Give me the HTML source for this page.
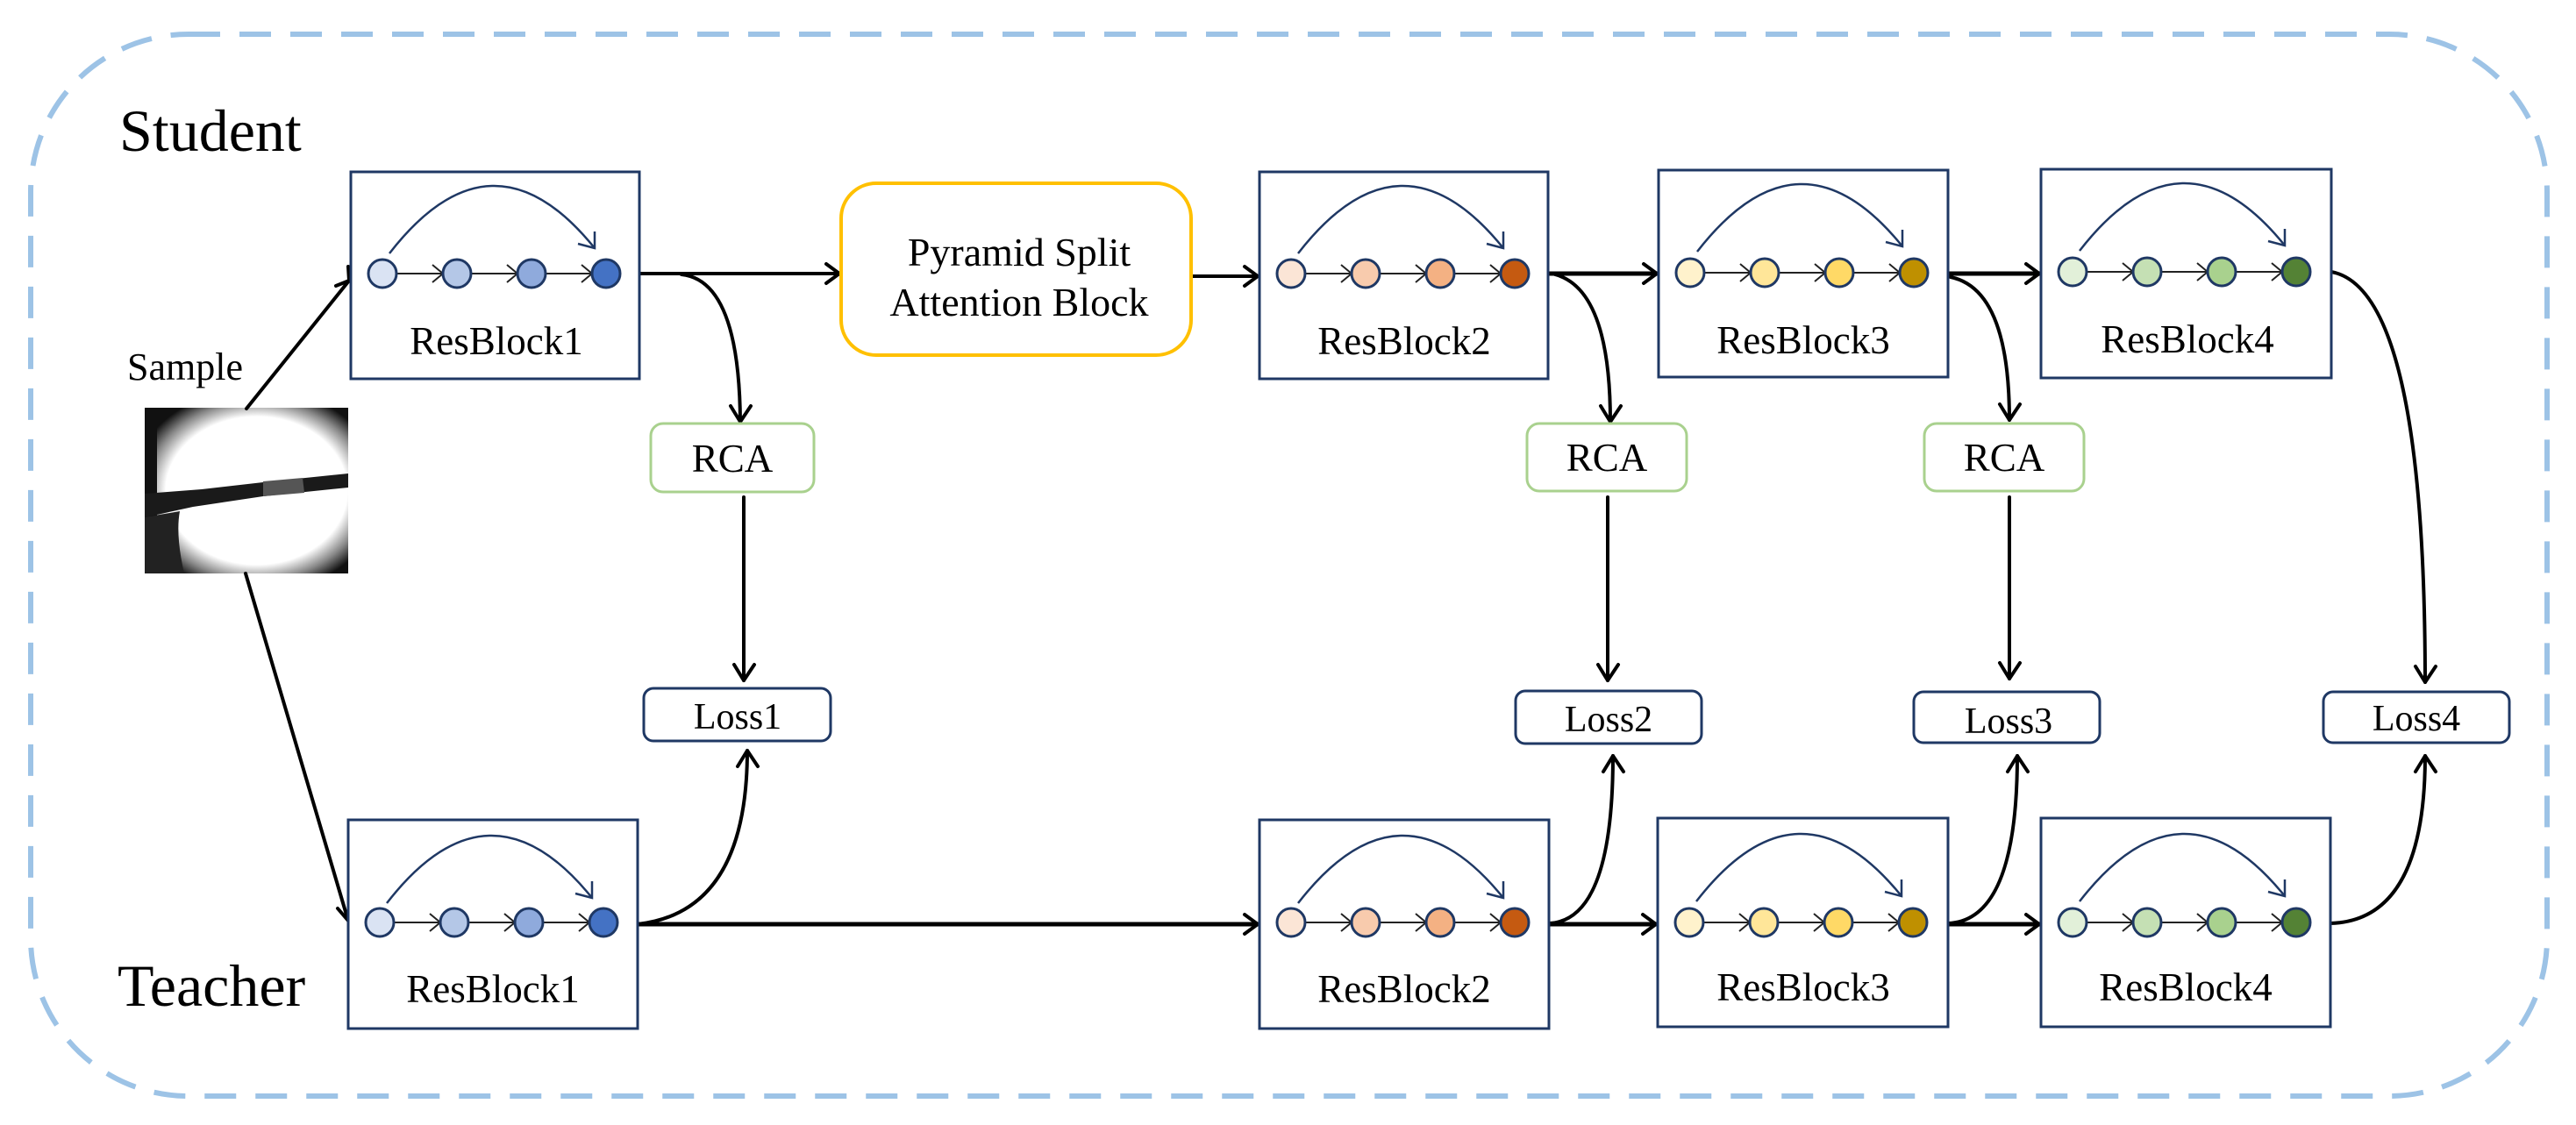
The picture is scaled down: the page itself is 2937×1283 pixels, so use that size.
<!DOCTYPE html>
<html><head><meta charset="utf-8"><style>
html,body{margin:0;padding:0;background:#fff;}
svg{display:block;}
</style></head><body>
<svg width="2937" height="1283" viewBox="0 0 2937 1283" xmlns="http://www.w3.org/2000/svg" font-family="'Liberation Serif','Times New Roman','DejaVu Serif',serif">
<defs>
<radialGradient id="rg" cx="0.55" cy="0.5" r="0.62">
<stop offset="0" stop-color="#fff"/><stop offset="0.72" stop-color="#fff"/><stop offset="0.87" stop-color="#888"/><stop offset="1" stop-color="#111"/>
</radialGradient>
</defs>
<rect x="35" y="39" width="2869" height="1211" rx="180" ry="180" fill="none" stroke="#9dc3e6" stroke-width="6" stroke-dasharray="36 22"/>

<g font-family="'Liberation Serif','Times New Roman',serif">
<text x="136" y="172" font-size="68">Student</text>
<text x="134" y="1147" font-size="68">Teacher</text>
<text x="145" y="433" font-size="44">Sample</text>
</g>

<g>
<rect x="165" y="465" width="232" height="189" fill="url(#rg)"/>
<rect x="165" y="465" width="14" height="189" fill="#111"/>
<path d="M165 563 L230 558 L300 550 L397 540 L397 556 L300 566 L220 578 L165 590 Z" fill="#1a1a1a"/>
<path d="M300 549 L345 545 L347 562 L300 566 Z" fill="#555"/>
<path d="M165 590 L205 583 Q200 610 210 654 L165 654 Z" fill="#222"/>
</g>

<g fill="none" stroke="#000" stroke-width="4" stroke-linecap="round" stroke-linejoin="round">
<path d="M281 466 L398 320"/><path d="M383 326 L398 320 L397 304"/>
<path d="M280 654 L397 1050"/><path d="M385 1036 L397 1050 L404 1033"/>
<path d="M729 312 L957 312"/><path d="M942 301 L957 312 L942 323"/>
<path d="M1358 315 L1434 315"/><path d="M1419 304 L1434 315 L1419 326"/>
<path d="M1765 312 L1889 312" stroke-width="5"/><path d="M1874 301 L1889 312 L1874 323"/>
<path d="M2221 312 L2325 312" stroke-width="5"/><path d="M2310 301 L2325 312 L2310 323"/>
<path d="M777 313 Q843 320 844 481"/><path d="M833 463 L844 481 L856 463"/>
<path d="M1773 313 Q1836 330 1836 481"/><path d="M1825 463 L1836 481 L1848 463"/>
<path d="M2224 316 Q2291 330 2291 479"/><path d="M2280 461 L2291 479 L2303 461"/>
<path d="M2658 310 Q2765 330 2765 778"/><path d="M2754 760 L2765 778 L2777 760"/>
<path d="M848 567 L848 776"/><path d="M837 758 L848 776 L860 758"/>
<path d="M1833 567 L1833 776"/><path d="M1822 758 L1833 776 L1845 758"/>
<path d="M2291 567 L2291 774"/><path d="M2280 756 L2291 774 L2303 756"/>
<path d="M727 1054 L1434 1054" stroke-width="5"/><path d="M1419 1043 L1434 1054 L1419 1065"/>
<path d="M1766 1054 L1888 1054" stroke-width="5"/><path d="M1873 1043 L1888 1054 L1873 1065"/>
<path d="M2221 1054 L2325 1054" stroke-width="5"/><path d="M2310 1043 L2325 1054 L2310 1065"/>
<path d="M727 1054 Q852 1040 852 856"/><path d="M841 874 L852 856 L864 874"/>
<path d="M1766 1053 Q1839 1050 1839 862"/><path d="M1828 880 L1839 862 L1851 880"/>
<path d="M2221 1053 Q2300 1050 2300 862"/><path d="M2289 880 L2300 862 L2312 880"/>
<path d="M2657 1053 Q2765 1050 2765 862"/><path d="M2754 880 L2765 862 L2777 880"/>
</g>

<rect x="959" y="209" width="399" height="196" rx="40" fill="#fff" stroke="#ffc000" stroke-width="4"/>
<g font-family="'Liberation Serif','Times New Roman',serif" text-anchor="middle">
<text x="1162" y="303" font-size="46">Pyramid Split</text>
<text x="1162" y="360" font-size="46">Attention Block</text>
</g>

<g fill="#fff" stroke="#a9d18e" stroke-width="3">
<rect x="742" y="483" width="186" height="78" rx="14"/>
<rect x="1741" y="483" width="182" height="77" rx="14"/>
<rect x="2194" y="483" width="182" height="77" rx="14"/>
</g>
<g font-size="45" text-anchor="middle" font-family="'Liberation Serif','Times New Roman',serif">
<text x="835" y="538">RCA</text><text x="1832" y="537">RCA</text><text x="2285" y="537">RCA</text>
</g>
<g fill="#fff" stroke="#1f3864" stroke-width="3">
<rect x="734" y="785" width="213" height="60" rx="11"/>
<rect x="1728" y="788" width="212" height="60" rx="11"/>
<rect x="2182" y="789" width="212" height="58" rx="11"/>
<rect x="2649" y="789" width="212" height="58" rx="11"/>
</g>
<g font-size="42" text-anchor="middle" font-family="'Liberation Serif','Times New Roman',serif">
<text x="841" y="831">Loss1</text><text x="1834" y="834">Loss2</text><text x="2290" y="836">Loss3</text><text x="2755" y="833">Loss4</text>
</g>

<g stroke="#1f3864" stroke-width="3" fill="#fff">
<rect x="400" y="196" width="329" height="236"/>
<rect x="1436" y="196" width="329" height="236"/>
<rect x="1891" y="194" width="330" height="236"/>
<rect x="2327" y="193" width="331" height="238"/>
<rect x="397" y="935" width="330" height="238"/>
<rect x="1436" y="935" width="330" height="238"/>
<rect x="1890" y="933" width="331" height="238"/>
<rect x="2327" y="933" width="330" height="238"/>
</g>
<g font-size="45" text-anchor="middle" font-family="'Liberation Serif','Times New Roman',serif">
<text x="566" y="404">ResBlock1</text>
<text x="1601" y="404">ResBlock2</text>
<text x="2056" y="403">ResBlock3</text>
<text x="2494" y="402">ResBlock4</text>
<text x="562" y="1143">ResBlock1</text>
<text x="1601" y="1143">ResBlock2</text>
<text x="2056" y="1141">ResBlock3</text>
<text x="2492" y="1141">ResBlock4</text>
</g>

<g stroke="#1f3864" stroke-width="2.5" fill="none">
<path d="M444 289 Q561 138 678 283"/>
<path d="M1480 289 Q1597 138 1714 283"/>
<path d="M1935 287 Q2052 136 2169 281"/>
<path d="M2371 286 Q2488 135 2605 280"/>
<path d="M441 1030 Q558 879 675 1024"/>
<path d="M1480 1030 Q1597 879 1714 1024"/>
<path d="M1934 1028 Q2051 877 2168 1022"/>
<path d="M2371 1028 Q2488 877 2605 1022"/>
<path d="M659 278 L678 283 L678 264"/><path d="M1695 278 L1714 283 L1714 264"/>
<path d="M2150 276 L2169 281 L2169 262"/><path d="M2586 275 L2605 280 L2605 261"/>
<path d="M656 1019 L675 1024 L675 1005"/><path d="M1695 1019 L1714 1024 L1714 1005"/>
<path d="M2149 1017 L2168 1022 L2168 1003"/><path d="M2586 1017 L2605 1022 L2605 1003"/>
</g>

<g stroke="#222" stroke-width="2" fill="none">
<path d="M452 312 L675 312 M493 302 L505 312 L493 322 M578 302 L590 312 L578 322 M663 302 L675 312 L663 322"/>
<path d="M1488 312 L1711 312 M1529 302 L1541 312 L1529 322 M1614 302 L1626 312 L1614 322 M1699 302 L1711 312 L1699 322"/>
<path d="M1943 311 L2166 311 M1984 301 L1996 311 L1984 321 M2069 301 L2081 311 L2069 321 M2154 301 L2166 311 L2154 321"/>
<path d="M2379 310 L2602 310 M2420 300 L2432 310 L2420 320 M2505 300 L2517 310 L2505 320 M2590 300 L2602 310 L2590 320"/>
<path d="M449 1052 L672 1052 M490 1042 L502 1052 L490 1062 M575 1042 L587 1052 L575 1062 M660 1042 L672 1052 L660 1062"/>
<path d="M1488 1052 L1711 1052 M1529 1042 L1541 1052 L1529 1062 M1614 1042 L1626 1052 L1614 1062 M1699 1042 L1711 1052 L1699 1062"/>
<path d="M1942 1052 L2165 1052 M1983 1042 L1995 1052 L1983 1062 M2068 1042 L2080 1052 L2068 1062 M2153 1042 L2165 1052 L2153 1062"/>
<path d="M2379 1052 L2602 1052 M2420 1042 L2432 1052 L2420 1062 M2505 1042 L2517 1052 L2505 1062 M2590 1042 L2602 1052 L2590 1062"/>
</g>
<g stroke="#1f3864" stroke-width="3">
<circle cx="436" cy="312" r="16" fill="#dae3f3"/><circle cx="521" cy="312" r="16" fill="#b4c7e7"/><circle cx="606" cy="312" r="16" fill="#8faadc"/><circle cx="691" cy="312" r="16" fill="#4472c4"/>
<circle cx="1472" cy="312" r="16" fill="#fbe5d6"/><circle cx="1557" cy="312" r="16" fill="#f8cbad"/><circle cx="1642" cy="312" r="16" fill="#f4b183"/><circle cx="1727" cy="312" r="16" fill="#c55a11"/>
<circle cx="1927" cy="311" r="16" fill="#fff2cc"/><circle cx="2012" cy="311" r="16" fill="#ffe699"/><circle cx="2097" cy="311" r="16" fill="#ffd966"/><circle cx="2182" cy="311" r="16" fill="#bf9000"/>
<circle cx="2363" cy="310" r="16" fill="#e2f0d9"/><circle cx="2448" cy="310" r="16" fill="#c5e0b4"/><circle cx="2533" cy="310" r="16" fill="#a9d18e"/><circle cx="2618" cy="310" r="16" fill="#548235"/>
<circle cx="433" cy="1052" r="16" fill="#dae3f3"/><circle cx="518" cy="1052" r="16" fill="#b4c7e7"/><circle cx="603" cy="1052" r="16" fill="#8faadc"/><circle cx="688" cy="1052" r="16" fill="#4472c4"/>
<circle cx="1472" cy="1052" r="16" fill="#fbe5d6"/><circle cx="1557" cy="1052" r="16" fill="#f8cbad"/><circle cx="1642" cy="1052" r="16" fill="#f4b183"/><circle cx="1727" cy="1052" r="16" fill="#c55a11"/>
<circle cx="1926" cy="1052" r="16" fill="#fff2cc"/><circle cx="2011" cy="1052" r="16" fill="#ffe699"/><circle cx="2096" cy="1052" r="16" fill="#ffd966"/><circle cx="2181" cy="1052" r="16" fill="#bf9000"/>
<circle cx="2363" cy="1052" r="16" fill="#e2f0d9"/><circle cx="2448" cy="1052" r="16" fill="#c5e0b4"/><circle cx="2533" cy="1052" r="16" fill="#a9d18e"/><circle cx="2618" cy="1052" r="16" fill="#548235"/>
</g>
</svg>
</body></html>
